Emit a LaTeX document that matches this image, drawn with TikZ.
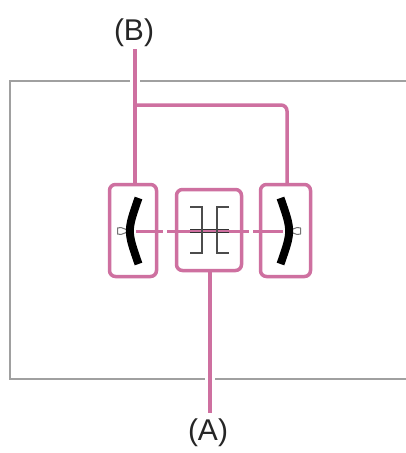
\documentclass[tikz,border=0pt]{standalone}
\usepackage{fontspec}
\setmainfont{Liberation Sans}
\definecolor{pk}{RGB}{206,112,160}
\definecolor{fr}{RGB}{160,160,160}
\begin{document}
\begin{tikzpicture}[x=1pt,y=-1pt,
  pinkbox/.style={draw=pk, line width=3.5pt, rounded corners=6pt, inner sep=0pt},
  conn/.style={draw=pk, line width=3.5pt},
  halo/.style={draw=white, line width=10pt},
  lbl/.style={font=\fontsize{30}{34}\selectfont, text=black!85, inner sep=0pt},
  arcstroke/.style={draw=black, line width=8pt},
  brk/.style={draw=black!70, line width=2pt},
  pin/.style={draw=black!55, line width=1pt, fill=white, line join=round},
  axis/.style={draw=pk, line width=3pt}
]
\useasboundingbox (0,0) rectangle (405,453);
\fill[white] (0,0) rectangle (405,453);
% frame
\draw[fr, line width=1.8pt] (410,81) -- (10,81) -- (10,379) -- (410,379);
% boxes
\node[pinkbox, minimum width=47pt, minimum height=92pt] (L) at (133,230.5) {};
\node[pinkbox, minimum width=65pt, minimum height=81pt] (M) at (209,230) {};
\node[pinkbox, minimum width=50pt, minimum height=92pt] (R) at (285.5,230.5) {};
% labels
\node[lbl] (B) at (134,33) {(B)};
\node[lbl] (A) at (208,433) {(A)};
\coordinate (Bt) at (135,49);
\coordinate (Br) at (135,105);
\coordinate (At) at (210,413);
% halos at frame crossings
\draw[halo] (135,76) -- (135,86);
\draw[halo] (210,374) -- (210,384);
% connectors
\draw[conn] (Bt) -- (Bt |- L.north);
\draw[conn, rounded corners=6pt] (Br) -| ([xshift=1.5pt]R.north);
\draw[conn] (M.south -| At) -- (At);
% horizontal axis
\draw[axis] (136,231) -- (163,231);
\draw[axis] (167,231) -- (249,231);
\draw[axis] (253,231) -- (283,231);
% center brackets
\draw[black!80, line width=3.2pt] (190,231) -- (229,231);
\draw[pk, line width=1.2pt] (190,231) -- (229,231);
\draw[brk] (190,207) -- (202,207) -- (202,253) -- (190,253);
\draw[brk] (229,207) -- (217,207) -- (217,253) -- (229,253);
% pins
\draw[pin] (130,231) -- (121,227.5) -- (117.5,228) -- (117.5,234) -- (121,234.5) -- cycle;
\draw[pin] (288,231) -- (297,227.5) -- (300.5,228) -- (300.5,234) -- (297,234.5) -- cycle;
% arcs
\draw[arcstroke] (138.5,198) .. controls (127,231) .. (138.5,264);
\draw[arcstroke] (280.5,198) .. controls (292,231) .. (280.5,264);
\end{tikzpicture}
\end{document}
